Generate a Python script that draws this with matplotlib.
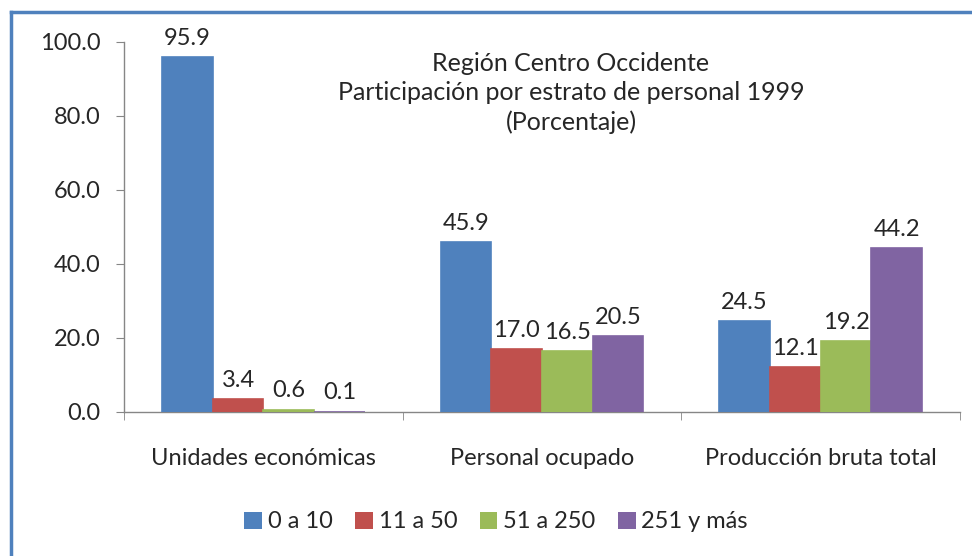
import matplotlib
matplotlib.use("Agg")
import matplotlib.pyplot as plt
from matplotlib.lines import Line2D
from matplotlib.patches import Patch
import numpy as np

plt.rcParams['font.family'] = ['Lato', 'DejaVu Sans']

categories = ["Unidades económicas", "Personal ocupado", "Producción bruta total"]
series_names = ["0 a 10", "11 a 50", "51 a 250", "251 y más"]
values = {
    "0 a 10": [95.9, 45.9, 24.5],
    "11 a 50": [3.4, 17.0, 12.1],
    "51 a 250": [0.6, 16.5, 19.2],
    "251 y más": [0.1, 20.5, 44.2],
}
colors = ["#4F81BD", "#C0504D", "#9BBB59", "#8064A2"]
yticks = [0, 20, 40, 60, 80, 100]
title_lines = ["Región Centro Occidente", "Participación por estrato de personal 1999", "(Porcentaje)"]

fig = plt.figure(figsize=(9.72, 5.56), dpi=100)
ax = fig.add_axes([124/972, 1-412/556, (960-124)/972, (412-42)/556])

fs = 17
txtc = "#262626"
n = len(series_names)
w = 1/(n+1.5)
x = np.arange(len(categories))
for i, (name, c) in enumerate(zip(series_names, colors)):
    offs = (i - (n-1)/2) * w
    ax.bar(x + offs, values[name], w, color=c, label=name, zorder=3,
           edgecolor=c, linewidth=1.2)
    for xi, v in zip(x + offs, values[name]):
        ax.annotate(f"{v:.1f}", (xi, v), xytext=(0, 6), textcoords="offset points",
                    ha="center", va="bottom", fontsize=fs, color=txtc)

ax.set_xlim(-0.5, len(categories)-0.5)
ax.set_ylim(0, 100)
ax.set_yticks(yticks)
ax.set_yticklabels([f"{t:.1f}" for t in yticks], fontsize=fs, color=txtc)
ax.set_xticks(x)
ax.set_xticklabels(categories, fontsize=fs, color=txtc)
ax.tick_params(axis='x', length=0, pad=26)
ax.tick_params(axis='y', length=6, color="#868686", pad=11)
ax.set_xticks(np.arange(-0.5, len(categories), 1.0), minor=True)
ax.tick_params(axis='x', which='minor', length=6, color="#868686")
for s in ["top", "right"]:
    ax.spines[s].set_visible(False)
for s in ["left", "bottom"]:
    ax.spines[s].set_color("#868686")
    ax.spines[s].set_linewidth(1.0)
    ax.spines[s].set_zorder(2)

ax.text((571-124)/836, 1+(42-52)/370, "\n".join(title_lines), transform=ax.transAxes,
        ha="center", va="top", fontsize=18, color=txtc, linespacing=1.32)

handles = [Patch(facecolor=c, label=nm) for nm, c in zip(series_names, colors)]
fig.legend(handles=handles, loc="center", bbox_to_anchor=(496/972, 1-522/556), ncol=4, frameon=False,
           fontsize=fs, handlelength=0.75, handleheight=0.75, handletextpad=0.25, columnspacing=0.95,
           labelcolor=txtc)

fig.add_artist(Line2D([11/972, 11/972], [0, 1-12/556], color="#4F81BD", lw=2.5, transform=fig.transFigure))
fig.add_artist(Line2D([11/972, 1], [1-12/556, 1-12/556], color="#4F81BD", lw=2.5, transform=fig.transFigure))

fig.savefig("out.png", dpi=100)
